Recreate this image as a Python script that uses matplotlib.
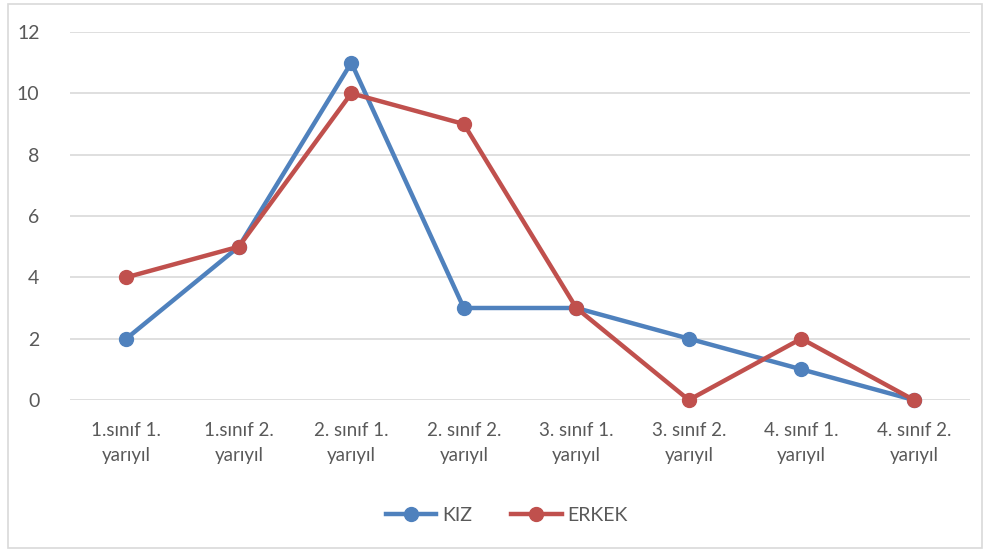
import matplotlib.pyplot as plt
from matplotlib.patches import Rectangle

plt.rcParams['font.family'] = ['Lato', 'DejaVu Sans']

categories = ['1.sınıf 1.\nyarıyıl', '1.sınıf 2.\nyarıyıl', '2. sınıf 1.\nyarıyıl',
              '2. sınıf 2.\nyarıyıl', '3. sınıf 1.\nyarıyıl', '3. sınıf 2.\nyarıyıl',
              '4. sınıf 1.\nyarıyıl', '4. sınıf 2.\nyarıyıl']
kiz = [2, 5, 11, 3, 3, 2, 1, 0]
erkek = [4, 5, 10, 9, 3, 0, 2, 0]

fig = plt.figure(figsize=(9.88, 5.53), dpi=100)
fig.patches.append(Rectangle((0.008, 0.009), 0.986, 0.983, transform=fig.transFigure,
                             fill=False, edgecolor='#D9D9D9', linewidth=1.2))
ax = fig.add_axes([0.0709, 0.2767, 0.911, 0.6654])

x = range(len(categories))
ax.plot(x, kiz, color='#4F81BD', lw=3.2, marker='o', ms=10, label='KIZ', zorder=3, clip_on=False)
ax.plot(x, erkek, color='#C0504D', lw=3.2, marker='o', ms=10, label='ERKEK', zorder=4, clip_on=False)

ax.set_xlim(-0.5, 7.5)
ax.set_ylim(0, 12)
ax.set_yticks(range(0, 13, 2))
ax.set_xticks(list(x))
ax.set_xticklabels(categories, fontsize=13.5, color='#595959', linespacing=1.55)
ax.tick_params(axis='y', labelsize=14, colors='#595959', length=0, pad=22)
ax.tick_params(axis='x', length=0, pad=16)
ax.grid(axis='y', color='#D9D9D9', lw=1.2)
ax.set_axisbelow(True)
for s in ax.spines.values():
    s.set_visible(False)

leg = fig.legend(loc='center', bbox_to_anchor=(0.513, 0.068), ncol=2, frameon=False,
                 fontsize=14, handlelength=2.6, columnspacing=2.0, handletextpad=0.3)
for t in leg.get_texts():
    t.set_color('#595959')

fig.savefig('out.png', dpi=100)
